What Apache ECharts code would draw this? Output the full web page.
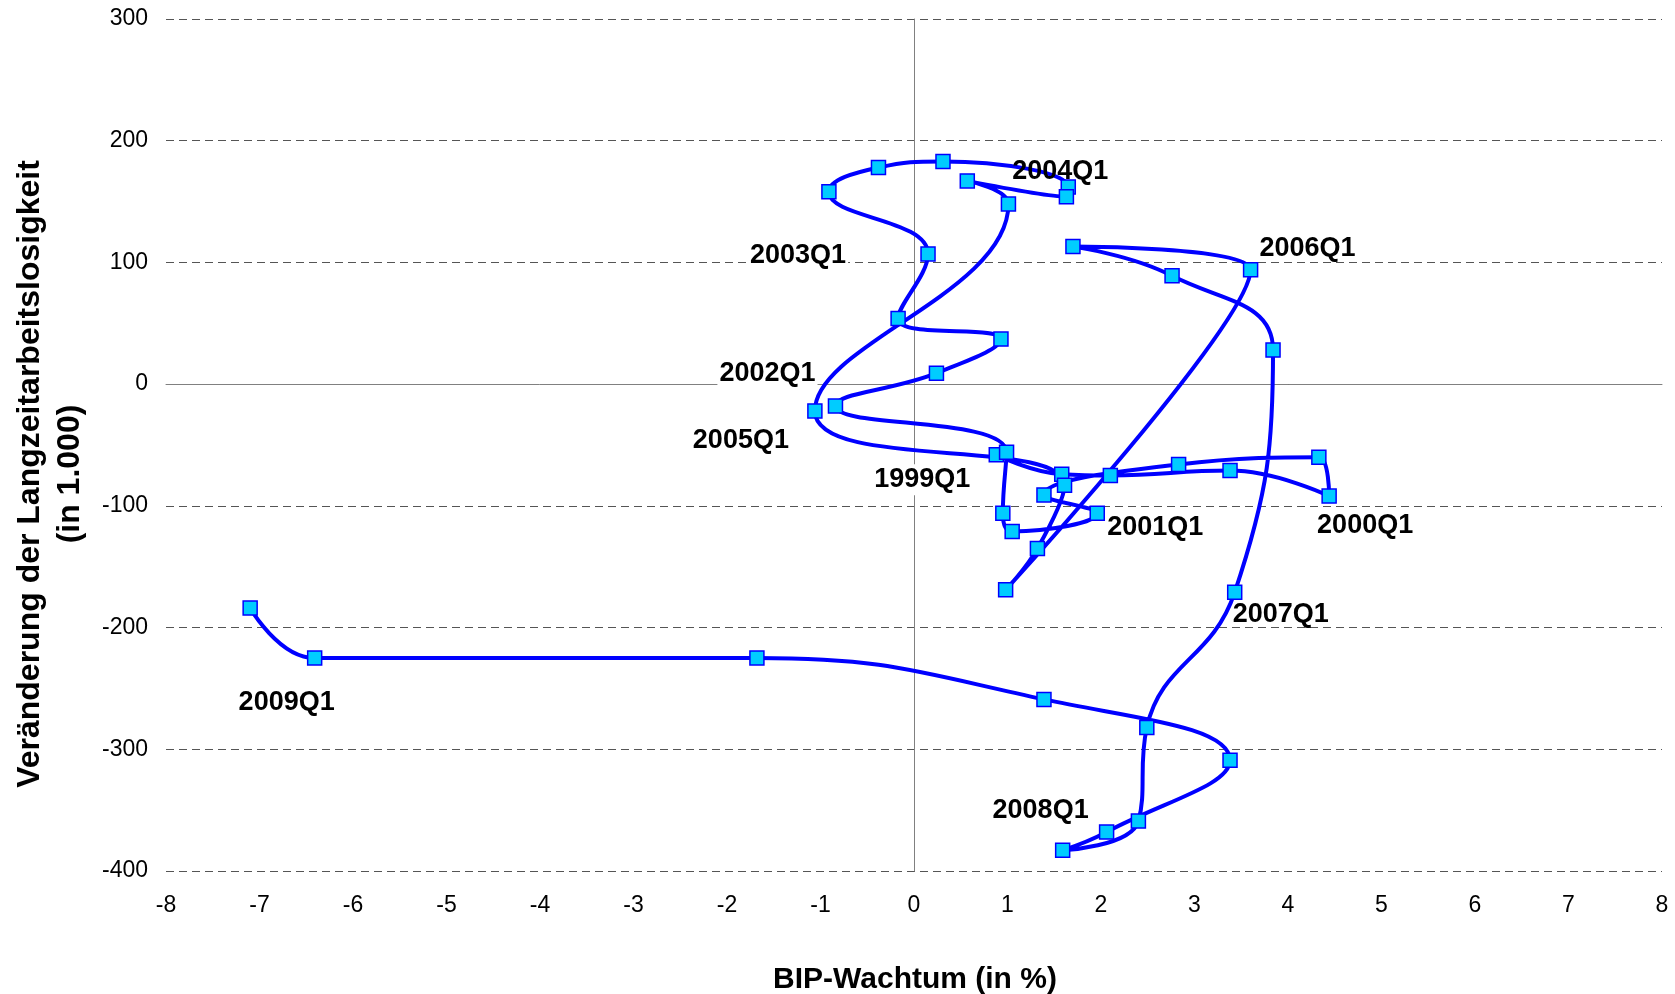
<!DOCTYPE html>
<html>
<head>
<meta charset="utf-8">
<script src="https://cdn.jsdelivr.net/npm/echarts@6/dist/echarts.min.js"></script>
<style>
html,body{margin:0;padding:0;background:#fff;}
#chart{width:1675px;height:994px;}
</style>
</head>
<body>
<div id="chart"></div>
<script>
// Quarters in chronological order
const quarters = ['1999Q1','1999Q2','1999Q3','1999Q4','2000Q1','2000Q2','2000Q3','2000Q4',
  '2001Q1','2001Q2','2001Q3','2001Q4','2002Q1','2002Q2','2002Q3','2002Q4',
  '2003Q1','2003Q2','2003Q3','2003Q4','2004Q1','2004Q2','2004Q3','2004Q4',
  '2005Q1','2005Q2','2005Q3','2005Q4','2006Q1','2006Q2','2006Q3','2006Q4',
  '2007Q1','2007Q2','2007Q3','2007Q4','2008Q1','2008Q2','2008Q3','2008Q4',
  '2009Q1','2009Q2'];
// BIP-Wachstum (in %)
const gdpGrowth = [0.88,1.58,2.10,3.38,4.44,4.33,2.83,1.39,
  1.96,1.05,0.95,0.99,-0.84,0.24,0.93,-0.17,
  0.15,-0.91,-0.38,0.31,1.65,1.63,0.57,1.01,
  -1.06,1.61,1.32,0.98,3.60,1.70,2.76,3.84,
  3.43,2.49,2.40,1.59,2.06,3.38,1.39,-1.68,
  -6.41,-7.10];
// Veränderung der Langzeitarbeitslosigkeit (in 1.000)
const ltuChange = [-58,-74,-75,-71,-92,-60,-66,-91,
  -106,-121,-106,-56,-18,9,37,54,
  107,158,178,183,162,154,167,148,
  -22,-83,-135,-169,94,113,89,28,
  -171,-282,-359,-383,-368,-309,-259,-225,
  -225,-184];
// Quarters that carry a text label
const labelledQuarters = ['1999Q1','2000Q1','2001Q1','2002Q1','2003Q1','2004Q1',
  '2005Q1','2006Q1','2007Q1','2008Q1','2009Q1'];
// Axis ticks
const xTicks = {min:-8, max:8, interval:1};
const yTicks = {min:-400, max:300, interval:100};

// label placement (style): offset of label centre from point, and whether it has a white box
const labelStyle = {
  '1999Q1': {offset:[-74,25], box:true},
  '2000Q1': {offset:[36,29], box:false},
  '2001Q1': {offset:[58,14], box:false},
  '2002Q1': {offset:[-68,-33], box:true},
  '2003Q1': {offset:[-130,2], box:true},
  '2004Q1': {offset:[-8,-15], box:false},
  '2005Q1': {offset:[-74,30], box:false},
  '2006Q1': {offset:[57,-21], box:false},
  '2007Q1': {offset:[46,22], box:false},
  '2008Q1': {offset:[-66,-22], box:false},
  '2009Q1': {offset:[-28,45], box:false}
};

const FONT = "'Liberation Sans', Arial, Helvetica, sans-serif";

const seriesData = quarters.map((q, i) => {
  const item = {name: q, value: [gdpGrowth[i], ltuChange[i]]};
  if (labelledQuarters.indexOf(q) >= 0) {
    const st = labelStyle[q];
    item.label = {
      show: true,
      formatter: q,
      position: 'inside',
      align: 'center',
      verticalAlign: 'middle',
      offset: st.offset,
      color: '#000',
      fontFamily: FONT,
      fontWeight: 'bold',
      fontSize: 27,
      backgroundColor: st.box ? '#ffffff' : 'transparent',
      padding: st.box ? [2, 2] : 0
    };
  }
  return item;
});

const chart = echarts.init(document.getElementById('chart'), null, {renderer: 'canvas'});
chart.setOption({
  animation: false,
  backgroundColor: '#ffffff',
  grid: {left: 166, right: 13, top: 19, bottom: 123, containLabel: false},
  xAxis: [{
    type: 'value',
    min: xTicks.min, max: xTicks.max, interval: xTicks.interval,
    position: 'bottom',
    axisLine: {show: false, onZero: false},
    axisTick: {show: false},
    splitLine: {show: false},
    axisLabel: {color: '#000', fontFamily: FONT, fontSize: 23, margin: 23}
  }, {
    type: 'value',
    min: xTicks.min, max: xTicks.max, interval: xTicks.interval,
    axisLine: {show: true, onZero: true, onZeroAxisIndex: 0, lineStyle: {color: '#808080', width: 1}},
    axisTick: {show: false},
    axisLabel: {show: false},
    splitLine: {show: false}
  }],
  yAxis: [{
    type: 'value',
    min: yTicks.min, max: yTicks.max, interval: yTicks.interval,
    position: 'left',
    axisLine: {show: false, onZero: false},
    axisTick: {show: false},
    splitLine: {show: true, lineStyle: {color: '#555', width: 1, type: [8, 5]}},
    axisLabel: {color: '#000', fontFamily: FONT, fontSize: 23, margin: 18}
  }, {
    type: 'value',
    min: yTicks.min, max: yTicks.max, interval: yTicks.interval,
    axisLine: {show: true, onZero: true, onZeroAxisIndex: 0, lineStyle: {color: '#808080', width: 1}},
    axisTick: {show: false},
    axisLabel: {show: false},
    splitLine: {show: false}
  }],
  graphic: [{
    type: 'text',
    x: 915, y: 980,
    style: {
      text: 'BIP-Wachtum (in %)',
      align: 'center', verticalAlign: 'middle',
      font: "bold 30px " + FONT,
      fill: '#000'
    }
  }, {
    type: 'text',
    x: 50, y: 474,
    rotation: Math.PI / 2,
    style: {
      text: 'Veränderung der Langzeitarbeitslosigkeit\n(in 1.000)',
      align: 'center', verticalAlign: 'middle',
      font: "bold 32px " + FONT,
      lineHeight: 40,
      fill: '#000'
    }
  }],
  series: [{
    type: 'line',
    xAxisIndex: 0,
    yAxisIndex: 0,
    data: seriesData,
    smooth: 0.45,
    clip: false,
    symbol: 'rect',
    symbolSize: 14,
    lineStyle: {color: '#0000FF', width: 4},
    itemStyle: {color: '#00CCFF', borderColor: '#0000FF', borderWidth: 1.5},
    z: 3
  }]
});
</script>
</body>
</html>
